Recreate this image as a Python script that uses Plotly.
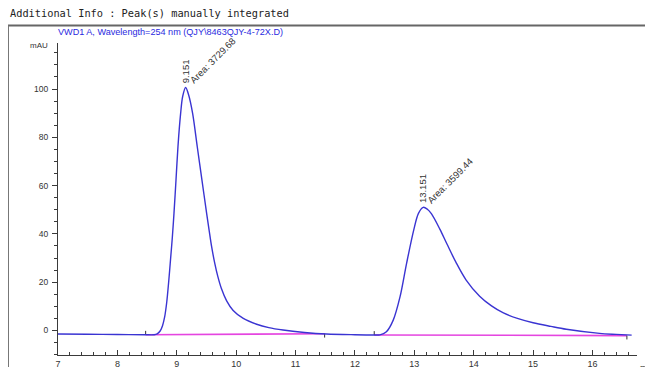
import plotly.graph_objects as go

# ---- data ----
time_min = [7.00, 7.50, 8.00, 8.46, 8.62, 8.67, 8.72, 8.76, 8.795, 8.83, 8.865, 8.897, 8.925,
            8.953, 8.987, 9.02, 9.065, 9.10, 9.15, 9.20, 9.267, 9.345, 9.424, 9.503, 9.545,
            9.587, 9.64, 9.69, 9.75, 9.84, 9.95, 10.12, 10.345, 10.55, 10.79, 11.15, 11.52,
            12.00, 12.33, 12.42, 12.53, 12.645, 12.76, 12.87, 12.99, 13.07, 13.151, 13.22,
            13.29, 13.43, 13.55, 13.70, 13.87, 14.10, 14.30, 14.50, 14.75, 15.00, 15.30,
            15.56, 16.12, 16.40, 16.66]
signal_mau = [-1.45, -1.55, -1.65, -1.75, -1.75, -1.4, -0.2, 2.0, 5.5, 11.5, 20.5, 30.0, 38.5,
              48.5, 62.3, 76.1, 89.9, 97.0, 100.6, 97.5, 89.9, 76.1, 62.3, 48.5, 41.5,
              34.7, 27.8, 22.5, 17.5, 12.3, 8.3, 5.0, 2.6, 1.2, 0.2, -0.8, -1.45,
              -1.75, -1.85, -1.8, -0.5, 4.3, 14.0, 27.8, 41.6, 48.5, 51.0, 50.2,
              48.3, 42.0, 35.8, 28.3, 21.0, 14.2, 10.2, 7.3, 4.9, 3.2, 1.7,
              0.5, -1.2, -1.6, -1.9]

baseline_t = [[8.476, 11.49], [12.325, 16.58]]
baseline_v = [[-1.74, -1.32], [-1.86, -2.10]]

peak_rt = [9.151, 13.151]
peak_height = [100.6, 51.0]
peak_area = ["3729.68", "3599.44"]

x_ticks = [7, 8, 9, 10, 11, 12, 13, 14, 15, 16]
y_ticks = [0, 20, 40, 60, 80, 100]

header = "Additional Info : Peak(s) manually integrated"
title = "VWD1 A, Wavelength=254 nm (QJY\\8463QJY-4-72X.D)"

LINE_BLUE = "#3a34d2"
PINK = "#e545e0"
AX = "#3a3a3a"
FONT = "Liberation Sans"

W, H = 645, 367
L, R, T, B = 58, 8, 43, 12
pw, ph = W - L - R, H - T - B


def px2paper_x(px):
    return (px - L) / pw


def px2paper_y(py):
    return (H - B - py) / ph


fig = go.Figure()

# integration baselines with start/end tick marks
for bt, bv in zip(baseline_t, baseline_v):
    fig.add_trace(go.Scatter(x=bt, y=bv, mode="lines",
                             line=dict(color=PINK, width=1.6), hoverinfo="skip",
                             showlegend=False))
    fig.add_trace(go.Scatter(x=[bt[0], bt[0]], y=[bv[0], bv[0] + 1.6], mode="lines",
                             line=dict(color="#333333", width=1), showlegend=False,
                             hoverinfo="skip"))
    fig.add_trace(go.Scatter(x=[bt[1], bt[1]], y=[bv[1], bv[1] - 1.6], mode="lines",
                             line=dict(color="#333333", width=1), showlegend=False,
                             hoverinfo="skip"))

# signal
fig.add_trace(go.Scatter(x=time_min, y=signal_mau, mode="lines",
                         line=dict(color=LINE_BLUE, width=1.4, shape="spline", smoothing=0.9),
                         showlegend=False))

annotations = []
for rt, h, area in zip(peak_rt, peak_height, peak_area):
    annotations.append(dict(x=rt, y=h, xref="x", yref="y", text=f"{rt:.3f}",
                            textangle=-90, showarrow=False, xanchor="center",
                            yanchor="bottom", yshift=2,
                            font=dict(family=FONT, size=9.5, color="#333333")))
    annotations.append(dict(x=rt, y=h, xref="x", yref="y", text=f"Area: {area}",
                            textangle=-45, showarrow=False, xanchor="left",
                            yanchor="bottom", xshift=-1, yshift=-1,
                            font=dict(family=FONT, size=9.5, color="#333333")))

annotations += [
    dict(x=px2paper_x(8), y=px2paper_y(13.5), xref="paper", yref="paper",
         text=header, showarrow=False, xanchor="left", yanchor="middle",
         font=dict(family="DejaVu Sans Mono", size=10.3, color="#222222")),
    dict(x=px2paper_x(170), y=px2paper_y(32.5), xref="paper", yref="paper",
         text=title, showarrow=False, xanchor="center", yanchor="middle",
         font=dict(family=FONT, size=9.1, color="#2a2ae0")),
    dict(x=px2paper_x(50), y=px2paper_y(46), xref="paper", yref="paper",
         text="mAU", showarrow=False, xanchor="right", yanchor="middle",
         font=dict(family=FONT, size=8, color="#333333")),
    dict(x=px2paper_x(638), y=px2paper_y(361), xref="paper", yref="paper",
         text="min", showarrow=False, xanchor="left", yanchor="top",
         font=dict(family=FONT, size=9, color="#333333")),
]

shapes = [
    dict(type="line", xref="paper", yref="paper", x0=px2paper_x(8), x1=px2paper_x(646),
         y0=px2paper_y(25.5), y1=px2paper_y(25.5), line=dict(color="#666666", width=2)),
    dict(type="line", xref="paper", yref="paper", x0=px2paper_x(8.5), x1=px2paper_x(8.5),
         y0=px2paper_y(25.5), y1=px2paper_y(368), line=dict(color="#777777", width=1)),
]

fig.update_layout(
    width=W, height=H,
    margin=dict(l=L, r=R, t=T, b=B, pad=0, autoexpand=False),
    paper_bgcolor="white", plot_bgcolor="white",
    annotations=annotations, shapes=shapes,
    showlegend=False,
)

fig.update_xaxes(range=[7, 16.75], tickvals=x_ticks, ticks="inside", ticklen=5,
                 tickcolor=AX, showline=True, linecolor=AX, linewidth=1, showgrid=False,
                 zeroline=False, automargin=False,
                 tickfont=dict(family=FONT, size=9, color="#333333"),
                 ticklabelstandoff=0,
                 minor=dict(dtick=0.2, tick0=7, ticks="inside", ticklen=3, tickcolor=AX,
                            showgrid=False))
fig.update_yaxes(range=[-10.14, 119.05], tickvals=y_ticks, ticks="outside", ticklen=5,
                 tickcolor=AX, showline=True, linecolor=AX, linewidth=1, showgrid=False,
                 zeroline=False, automargin=False,
                 tickfont=dict(family=FONT, size=8.5, color="#333333"),
                 ticklabelstandoff=2,
                 minor=dict(dtick=5, tick0=0, ticks="outside", ticklen=3, tickcolor=AX,
                            showgrid=False))

fig.write_html("out.html")
